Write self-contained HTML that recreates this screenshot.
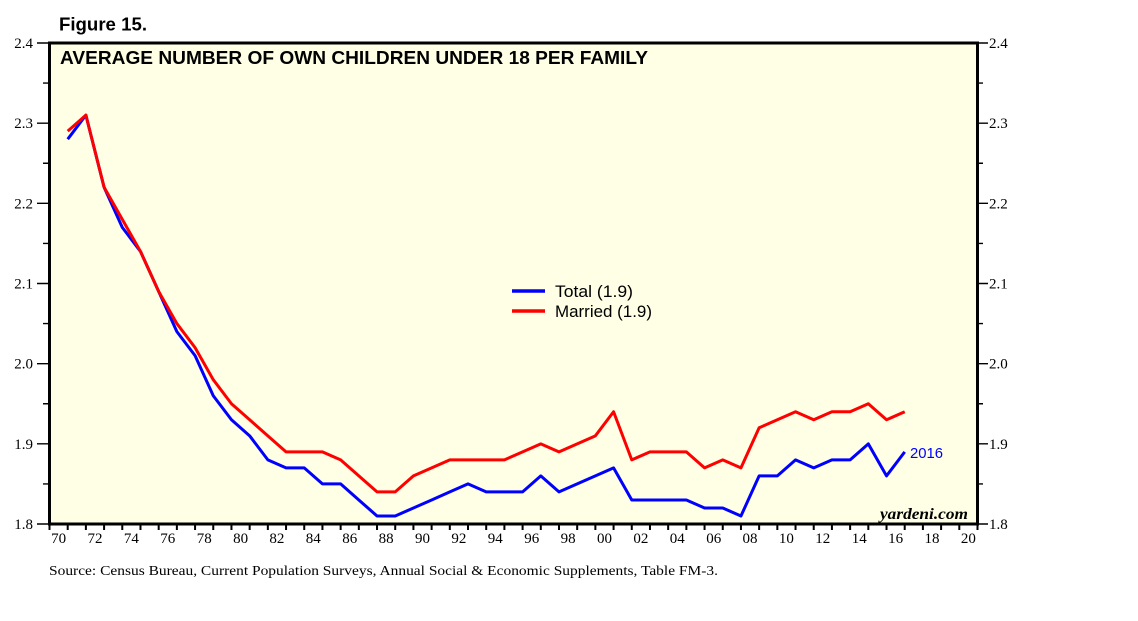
<!DOCTYPE html>
<html><head><meta charset="utf-8"><style>
html,body{margin:0;padding:0;background:#fff;}
svg{display:block;}
</style></head><body>
<svg width="1138" height="621" viewBox="0 0 1138 621" xmlns="http://www.w3.org/2000/svg">
<rect width="1138" height="621" fill="#fff"/>
<text x="59" y="30.5" font-family="Liberation Sans, sans-serif" font-weight="bold" font-size="18" textLength="88" lengthAdjust="spacingAndGlyphs">Figure 15.</text>
<rect x="49.5" y="43" width="928" height="481" fill="#ffffe5"/>
<text x="60" y="64" font-family="Liberation Sans, sans-serif" font-weight="bold" font-size="18" textLength="588" lengthAdjust="spacingAndGlyphs">AVERAGE NUMBER OF OWN CHILDREN UNDER 18 PER FAMILY</text>
<!-- y ticks -->
<g stroke="#000" stroke-width="1.4">
<path d="M37 43H49 M37 123.17H49 M37 203.33H49 M37 283.5H49 M37 363.67H49 M37 443.83H49 M37 524H49 M43 83.08H49 M43 163.25H49 M43 243.42H49 M43 323.58H49 M43 403.75H49 M43 483.92H49"/>
<path d="M978 43H988 M978 123.17H988 M978 203.33H988 M978 283.5H988 M978 363.67H988 M978 443.83H988 M978 524H988 M978 83.08H983 M978 163.25H983 M978 243.42H983 M978 323.58H983 M978 403.75H983 M978 483.92H983"/>
</g>
<g font-family="Liberation Serif, serif" font-size="15" fill="#000">
<g text-anchor="end">
<text x="33" y="48">2.4</text><text x="33" y="128.2">2.3</text><text x="33" y="208.3">2.2</text><text x="33" y="288.5">2.1</text><text x="33" y="368.7">2.0</text><text x="33" y="448.8">1.9</text><text x="33" y="529">1.8</text>
</g>
<text x="989" y="48">2.4</text><text x="989" y="128.2">2.3</text><text x="989" y="208.3">2.2</text><text x="989" y="288.5">2.1</text><text x="989" y="368.7">2.0</text><text x="989" y="448.8">1.9</text><text x="989" y="529">1.8</text>
</g>
<!-- x ticks -->
<path stroke="#000" stroke-width="2" d="M49.5 525V530 M67.7 525V530 M85.89 525V530 M104.09 525V530 M122.28 525V530 M140.48 525V530 M158.68 525V530 M176.87 525V530 M195.07 525V530 M213.26 525V530 M231.46 525V530 M249.66 525V530 M267.85 525V530 M286.05 525V530 M304.24 525V530 M322.44 525V530 M340.64 525V530 M358.83 525V530 M377.03 525V530 M395.22 525V530 M413.42 525V530 M431.62 525V530 M449.81 525V530 M468.01 525V530 M486.2 525V530 M504.4 525V530 M522.6 525V530 M540.79 525V530 M558.99 525V530 M577.18 525V530 M595.38 525V530 M613.58 525V530 M631.77 525V530 M649.97 525V530 M668.16 525V530 M686.36 525V530 M704.56 525V530 M722.75 525V530 M740.95 525V530 M759.14 525V530 M777.34 525V530 M795.54 525V530 M813.73 525V530 M831.93 525V530 M850.12 525V530 M868.32 525V530 M886.52 525V530 M904.71 525V530 M922.91 525V530 M941.1 525V530 M959.3 525V530 M977.5 525V530"/>
<g font-family="Liberation Serif, serif" font-size="15" fill="#000" text-anchor="middle">
<text x="58.6" y="543">70</text><text x="95" y="543">72</text><text x="131.4" y="543">74</text><text x="167.8" y="543">76</text><text x="204.2" y="543">78</text><text x="240.6" y="543">80</text><text x="276.9" y="543">82</text><text x="313.3" y="543">84</text><text x="349.7" y="543">86</text><text x="386.1" y="543">88</text><text x="422.5" y="543">90</text><text x="458.9" y="543">92</text><text x="495.3" y="543">94</text><text x="531.7" y="543">96</text><text x="568.1" y="543">98</text><text x="604.5" y="543">00</text><text x="640.9" y="543">02</text><text x="677.3" y="543">04</text><text x="713.7" y="543">06</text><text x="750" y="543">08</text><text x="786.4" y="543">10</text><text x="822.8" y="543">12</text><text x="859.2" y="543">14</text><text x="895.6" y="543">16</text><text x="932" y="543">18</text><text x="968.4" y="543">20</text>
</g>
<!-- series -->
<polyline fill="none" stroke="#0000ff" stroke-width="3" stroke-linejoin="round" points="67.70,139.20 85.89,115.15 104.09,187.30 122.28,227.38 140.48,251.43 158.68,291.52 176.87,331.60 195.07,355.65 213.26,395.73 231.46,419.78 249.66,435.82 267.85,459.87 286.05,467.88 304.24,467.88 322.44,483.92 340.64,483.92 358.83,499.95 377.03,515.98 395.22,515.98 413.42,507.97 431.62,499.95 449.81,491.93 468.01,483.92 486.20,491.93 504.40,491.93 522.60,491.93 540.79,475.90 558.99,491.93 577.18,483.92 595.38,475.90 613.58,467.88 631.77,499.95 649.97,499.95 668.16,499.95 686.36,499.95 704.56,507.97 722.75,507.97 740.95,515.98 759.14,475.90 777.34,475.90 795.54,459.87 813.73,467.88 831.93,459.87 850.12,459.87 868.32,443.83 886.52,475.90 904.71,451.85"/>
<polyline fill="none" stroke="#ff0000" stroke-width="3" stroke-linejoin="round" points="67.70,131.18 85.89,115.15 104.09,187.30 122.28,219.37 140.48,251.43 158.68,291.52 176.87,323.58 195.07,347.63 213.26,379.70 231.46,403.75 249.66,419.78 267.85,435.82 286.05,451.85 304.24,451.85 322.44,451.85 340.64,459.87 358.83,475.90 377.03,491.93 395.22,491.93 413.42,475.90 431.62,467.88 449.81,459.87 468.01,459.87 486.20,459.87 504.40,459.87 522.60,451.85 540.79,443.83 558.99,451.85 577.18,443.83 595.38,435.82 613.58,411.77 631.77,459.87 649.97,451.85 668.16,451.85 686.36,451.85 704.56,467.88 722.75,459.87 740.95,467.88 759.14,427.80 777.34,419.78 795.54,411.77 813.73,419.78 831.93,411.77 850.12,411.77 868.32,403.75 886.52,419.78 904.71,411.77"/>
<text x="910" y="458" font-family="Liberation Sans, sans-serif" font-size="15" fill="#0000ff" textLength="33" lengthAdjust="spacingAndGlyphs">2016</text>
<!-- legend -->
<line x1="512" y1="291" x2="545" y2="291" stroke="#0000ff" stroke-width="3.5"/>
<line x1="512" y1="311" x2="545" y2="311" stroke="#ff0000" stroke-width="3.5"/>
<text x="555" y="297" font-family="Liberation Sans, sans-serif" font-size="17" fill="#000" textLength="78" lengthAdjust="spacingAndGlyphs">Total (1.9)</text>
<text x="555" y="317" font-family="Liberation Sans, sans-serif" font-size="17" fill="#000" textLength="97" lengthAdjust="spacingAndGlyphs">Married (1.9)</text>
<text x="880" y="519" font-family="Liberation Serif, serif" font-style="italic" font-weight="bold" font-size="16" fill="#000" textLength="88" lengthAdjust="spacingAndGlyphs">yardeni.com</text>
<!-- frame -->
<rect x="49.5" y="43" width="928" height="481" fill="none" stroke="#000" stroke-width="3"/>
<text x="49" y="575" font-family="Liberation Serif, serif" font-size="14" fill="#000" textLength="669" lengthAdjust="spacingAndGlyphs">Source: Census Bureau, Current Population Surveys, Annual Social &amp; Economic Supplements, Table FM-3.</text>
</svg>
</body></html>
